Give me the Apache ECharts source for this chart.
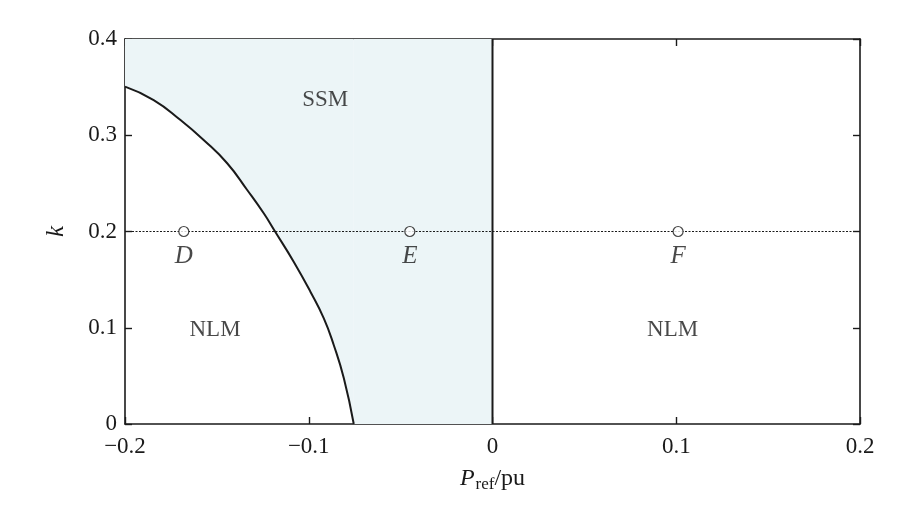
<!DOCTYPE html>
<html>
<head>
<meta charset="utf-8">
<script src="https://cdn.jsdelivr.net/npm/echarts@6/dist/echarts.min.js"></script>
<style>
  html, body { margin: 0; padding: 0; background: #fff; }
  #chart { width: 917px; height: 523px; }
</style>
</head>
<body>
<div id="chart"></div>
<script>
// boundary curve between NLM and SSM (P_ref, k)
const boundaryP = [-0.2, -0.1844, -0.1698, -0.1572, -0.1444, -0.1335, -0.1245, -0.1185, -0.1082, -0.0991, -0.0918, -0.0864, -0.0809, -0.0755];
const boundaryK = [0.3505, 0.3366, 0.3158, 0.2951, 0.2709, 0.2431, 0.2189, 0.2005, 0.1686, 0.1375, 0.1098, 0.0821, 0.0475, 0];

// operating points on k = 0.2
const pointNames = ["D", "E", "F"];
const pointP = [-0.168, -0.045, 0.101];
const pointK = [0.2, 0.2, 0.2];

// region labels
const regionNames = ["SSM", "NLM", "NLM"];
const regionP = [-0.091, -0.151, 0.098];
const regionK = [0.337, 0.098, 0.098];

const serif = "'Times New Roman', 'Liberation Serif', Times, serif";
const ink = "#1a1a1a";
const shadeColor = "#ecf5f7";

const boundary = boundaryP.map((p, i) => [p, boundaryK[i]]);
const lastP = boundaryP[boundaryP.length - 1];

const fmt = v => (v < 0 ? "\u2212" + String(-v) : String(v));

const axisCommon = {
  type: "value",
  axisLine: { show: true, onZero: false, lineStyle: { color: ink, width: 1.6 } },
  axisTick: { show: true, inside: true, length: 7, lineStyle: { color: ink, width: 1.4 } },
  splitLine: { show: false },
};

const chart = echarts.init(document.getElementById("chart"));
chart.setOption({
  animation: false,
  grid: { left: 125, right: 57, top: 39, bottom: 99 },
  xAxis: [
    Object.assign({}, axisCommon, {
      min: -0.2, max: 0.2, interval: 0.1,
      axisLabel: { color: ink, fontFamily: serif, fontSize: 23, margin: 11, formatter: fmt },
      name: "{p|P}{s|ref}{t|/pu}",
      nameLocation: "middle",
      nameGap: 40,
      nameTextStyle: {
        rich: {
          p: { fontFamily: serif, fontStyle: "italic", fontSize: 24, color: ink },
          s: { fontFamily: serif, fontSize: 17, color: ink, padding: [12, 0, 0, 1] },
          t: { fontFamily: serif, fontSize: 24, color: ink },
        },
      },
    }),
    Object.assign({}, axisCommon, {
      position: "top", min: -0.2, max: 0.2, interval: 0.1,
      axisLabel: { show: false },
    }),
  ],
  yAxis: [
    Object.assign({}, axisCommon, {
      min: 0, max: 0.4, interval: 0.1,
      axisLabel: { color: ink, fontFamily: serif, fontSize: 23, margin: 8, formatter: fmt },
      name: "k",
      nameLocation: "middle",
      nameRotate: 90,
      nameGap: 56,
      nameTextStyle: { fontFamily: serif, fontStyle: "italic", fontSize: 25, color: ink },
    }),
    Object.assign({}, axisCommon, {
      position: "right", min: 0, max: 0.4, interval: 0.1,
      axisLabel: { show: false },
    }),
  ],
  series: [
    {
      // SSM shading above the boundary curve
      type: "line",
      data: boundary,
      symbol: "none",
      smooth: 0.5,
      lineStyle: { width: 0 },
      areaStyle: { origin: "end", color: shadeColor, opacity: 1 },
      z: 1,
      silent: true,
    },
    {
      type: "line",
      data: [[lastP, 0], [0, 0]],
      symbol: "none",
      lineStyle: { width: 0 },
      areaStyle: { origin: "end", color: shadeColor, opacity: 1 },
      z: 1,
      silent: true,
    },
    {
      type: "line",
      data: [[-0.2, 0.2], [0.2, 0.2]],
      symbol: "none",
      lineStyle: { color: ink, width: 1, type: [2, 1.5] },
      z: 2,
    },
    {
      type: "line",
      data: boundary,
      symbol: "none",
      smooth: 0.5,
      lineStyle: { color: ink, width: 2 },
      z: 3,
    },
    {
      type: "line",
      data: [[0, 0], [0, 0.4]],
      symbol: "none",
      lineStyle: { color: ink, width: 2 },
      z: 3,
    },
    {
      type: "scatter",
      data: pointP.map((p, i) => ({ value: [p, pointK[i]], name: pointNames[i] })),
      symbol: "circle",
      symbolSize: 10,
      itemStyle: { color: "#fff", borderColor: ink, borderWidth: 1.2 },
      label: {
        show: true,
        position: "bottom",
        distance: 7,
        formatter: "{b}",
        fontFamily: serif,
        fontStyle: "italic",
        fontSize: 25,
        color: ink,
      },
      z: 4,
    },
    {
      type: "scatter",
      data: regionP.map((p, i) => ({ value: [p, regionK[i]], name: regionNames[i] })),
      symbolSize: 0,
      label: {
        show: true,
        position: "inside",
        formatter: "{b}",
        fontFamily: serif,
        fontSize: 23,
        color: ink,
      },
      z: 4,
      silent: true,
    },
  ],
});
</script>
</body>
</html>
